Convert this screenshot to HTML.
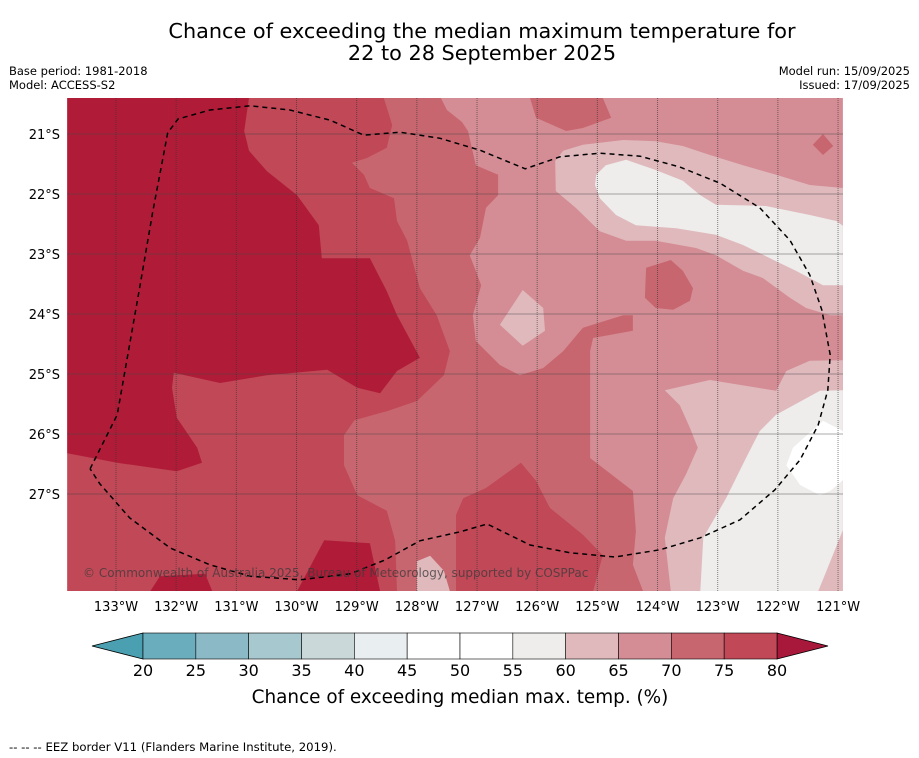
<!DOCTYPE html>
<html><head><meta charset="utf-8"><style>
body{margin:0;background:#fff;width:919px;height:758px;overflow:hidden;font-family:"Liberation Sans","DejaVu Sans",sans-serif}
svg{position:absolute;left:0;top:0}
</style></head><body>
<svg id="chart" width="919" height="758" font-family="DejaVu Sans, Liberation Sans, sans-serif">
<text x="482" y="38" text-anchor="middle" font-size="20.8">Chance of exceeding the median maximum temperature for</text>
<text x="482" y="60" text-anchor="middle" font-size="20.8">22 to 28 September 2025</text>
<text x="9" y="75" font-size="11.5">Base period: 1981-2018</text>
<text x="9" y="89" font-size="11.5">Model: ACCESS-S2</text>
<text x="910" y="75" font-size="11.5" text-anchor="end">Model run: 15/09/2025</text>
<text x="910" y="89" font-size="11.5" text-anchor="end">Issued: 17/09/2025</text>
<defs><clipPath id="mapclip"><rect x="67" y="98" width="776" height="493"/></clipPath></defs>
<g id="map" clip-path="url(#mapclip)"></g>
<g id="grid"></g>
<g id="eez"></g>
<text x="83" y="577" font-size="12" fill="#3a3a3a" fill-opacity="0.75">© Commonwealth of Australia 2025, Bureau of Meteorology, supported by COSPPac</text>
<g id="axes"></g>
<g id="cbar"></g>
<text x="460" y="703" text-anchor="middle" font-size="18.4">Chance of exceeding median max. temp. (%)</text>
<text x="9" y="751" font-size="11.7">--  --  -- EEZ border V11 (Flanders Marine Institute, 2019).</text>
</svg>
<script>
// Data: contour regions as [lonW, latS] vertices
const lonTicks=[133,132,131,130,129,128,127,126,125,124,123,122,121];
const latTicks=[21,22,23,24,25,26,27];
const levels=[20,25,30,35,40,45,50,55,60,65,70,75,80];
const levelColors=["#6aadbd","#8bbac6","#a8c8cf","#cbd8da","#e9eef0","#ffffff","#ffffff","#eeedec","#e0b9bd","#d48d95","#c8666f","#c04857"];
const regionBase=[[133.81,20.4],[120.92,20.4],[120.92,28.62],[133.81,28.62]];
const region70=[[133.81,20.4],[127.6,20.4],[127.5,20.6],[127.25,20.8],[127.15,20.95],[127.02,21.52],[126.65,21.68],[126.65,22.02],[126.85,22.23],[126.95,22.73],[127.12,23.02],[126.93,23.52],[127.07,24.02],[127.02,24.45],[126.62,24.85],[126.29,25.02],[125.9,24.9],[125.57,24.62],[125.24,24.23],[124.57,24.02],[124.41,24.02],[124.41,24.28],[125.07,24.4],[125.12,24.62],[125.12,26.4],[124.41,26.95],[124.36,27.62],[124.41,28.18],[124.24,28.62],[133.81,28.62]];
const region70a=[[126.12,20.4],[126.02,20.73],[125.52,20.95],[125.24,20.9],[124.77,20.73],[124.91,20.4]];
const region70b=[[124.19,23.23],[123.78,23.1],[123.58,23.28],[123.41,23.57],[123.46,23.78],[123.74,23.93],[124.03,23.9],[124.21,23.73]];
const region70c=[[121.42,21.18],[121.25,21.0],[121.08,21.2],[121.25,21.35]];
const region75=[[133.81,20.4],[128.55,20.4],[128.41,20.85],[128.5,21.23],[128.83,21.4],[129.08,21.48],[128.88,21.68],[128.78,21.9],[128.38,22.07],[128.33,22.45],[128.16,22.78],[127.95,23.57],[127.67,24.02],[127.45,24.62],[127.55,25.02],[128.0,25.45],[128.5,25.62],[129.04,25.77],[129.21,26.02],[129.21,26.52],[128.99,27.02],[128.5,27.28],[128.36,27.78],[128.33,28.62],[133.81,28.62]];
const region75a=[[127.35,27.35],[127.23,27.07],[126.85,26.9],[126.27,26.48],[126.02,26.78],[125.79,27.23],[125.24,27.68],[124.91,28.02],[125.07,28.62],[127.35,28.62]];
const region80=[[130.79,20.4],[130.87,20.95],[130.79,21.28],[130.49,21.62],[129.99,22.02],[129.63,22.52],[129.58,23.07],[128.78,23.07],[128.5,23.62],[128.33,24.02],[127.95,24.73],[128.33,24.95],[128.61,25.32],[128.99,25.23],[129.49,24.93],[130.49,25.02],[131.27,25.15],[132.04,24.98],[132.07,25.23],[131.99,25.73],[131.65,26.23],[131.57,26.48],[131.99,26.62],[132.98,26.48],[133.81,26.32],[133.81,20.4]];
const region80a=[[129.99,28.62],[129.54,27.77],[128.78,27.82],[128.61,28.62]];
const region80b=[[132.43,28.62],[132.27,28.37],[131.52,28.33],[131.4,28.62]];
const region60a=[[125.7,21.45],[125.69,21.95],[125.36,22.23],[124.96,22.62],[124.52,22.78],[124.03,22.78],[123.36,22.9],[123.03,23.02],[122.58,23.28],[122.25,23.4],[121.8,23.73],[121.53,23.9],[121.13,24.02],[120.92,24.02],[120.92,21.9],[121.47,21.85],[122.03,21.68],[122.58,21.52],[123.13,21.35],[123.58,21.2],[124.03,21.12],[124.57,21.1],[125.24,21.18],[125.57,21.28]];
const region60b=[[126.62,24.18],[126.24,23.6],[125.9,23.9],[125.87,24.28],[126.24,24.53]];
const region60c=[[123.88,25.27],[123.13,25.1],[122.03,25.28],[121.86,24.95],[121.47,24.78],[120.92,24.77],[120.92,28.62],[123.78,28.62],[123.88,27.73],[123.74,27.07],[123.53,26.68],[123.33,26.23],[123.46,25.9],[123.63,25.52]];
const region60d=[[128.0,28.12],[127.78,28.03],[127.55,28.28],[127.45,28.62],[128.0,28.62]];
const region55a=[[125.02,21.68],[124.86,21.52],[124.52,21.43],[124.03,21.6],[123.58,21.78],[123.29,22.02],[123.03,22.18],[122.2,22.2],[121.47,22.35],[121.03,22.45],[120.92,22.53],[120.92,23.52],[121.25,23.52],[121.7,23.28],[122.03,23.12],[122.58,22.85],[123.03,22.68],[123.69,22.57],[124.36,22.52],[124.69,22.35],[124.96,22.07],[125.04,21.85]];
const region55b=[[123.29,28.62],[123.24,27.73],[122.86,27.07],[122.53,26.4],[122.3,25.95],[122.03,25.68],[121.3,25.28],[120.92,25.27],[120.92,28.62]];
const region60e=[[120.92,27.6],[121.22,28.35],[121.33,28.62],[120.92,28.62]];
const region50=[[121.86,26.52],[121.75,26.23],[121.25,25.78],[120.92,25.95],[120.92,26.77],[121.13,26.95],[121.3,27.02],[121.63,26.85]];
const eezBorder=[[133.43,26.58],[132.98,25.68],[132.6,23.52],[132.39,22.3],[132.14,20.98],[131.97,20.75],[131.44,20.6],[130.77,20.53],[130.11,20.6],[129.44,20.77],[128.88,21.02],[128.28,20.97],[127.62,21.07],[126.95,21.27],[126.2,21.58],[125.62,21.38],[124.96,21.32],[124.29,21.37],[123.63,21.55],[122.96,21.82],[122.3,22.23],[121.8,22.77],[121.47,23.35],[121.27,23.93],[121.13,24.68],[121.17,25.27],[121.33,25.85],[121.63,26.43],[122.05,26.93],[122.63,27.43],[123.29,27.73],[123.96,27.93],[124.71,28.05],[125.45,27.98],[126.12,27.85],[126.83,27.5],[127.28,27.63],[127.95,27.78],[128.53,28.1],[129.11,28.33],[129.94,28.43],[130.77,28.37],[131.44,28.18],[132.1,27.9],[132.77,27.4],[133.27,26.83],[133.43,26.58]];

const NS="http://www.w3.org/2000/svg";
function X(w){return 116+(133-w)*60.17;}
function Y(s){return 134+(s-21)*60;}
function mk(tag,attrs,parent){const e=document.createElementNS(NS,tag);for(const k in attrs)e.setAttribute(k,attrs[k]);parent.appendChild(e);return e;}
function pts(a){return a.map(p=>X(p[0]).toFixed(1)+","+Y(p[1]).toFixed(1)).join(" ");}
const map=document.getElementById('map');
const layers=[[regionBase,"#d48d95","band-65-70"],[region70,"#c8666f","band-70-75"],[region70a,"#c8666f","band-70-75-patch"],[region70b,"#c8666f","band-70-75-patch"],[region70c,"#c8666f","band-70-75-patch"],[region75,"#c04857","band-75-80"],[region75a,"#c04857","band-75-80-patch"],[region80,"#b01c38","band-above-80"],[region80a,"#b01c38","band-above-80-patch"],[region80b,"#b01c38","band-above-80-patch"],[region60a,"#e0b9bd","band-60-65"],[region60b,"#e0b9bd","band-60-65-patch"],[region60c,"#e0b9bd","band-60-65-south"],[region60d,"#e0b9bd","band-60-65-patch"],[region55a,"#eeedec","band-55-60"],[region55b,"#eeedec","band-55-60-south"],[region60e,"#e0b9bd","band-60-65-patch"],[region50,"#ffffff","band-50-55"]];
layers.forEach(l=>{const p=mk('polygon',{points:pts(l[0]),fill:l[1]},map);

});
const grid=document.getElementById('grid');
latTicks.forEach(s=>{const ln=mk('line',{x1:67,x2:843,y1:Y(s),y2:Y(s),stroke:"#444","stroke-opacity":0.45,"stroke-width":1},grid);

});
lonTicks.forEach(w=>{const ln=mk('line',{x1:X(w),x2:X(w),y1:98,y2:591,stroke:"#333","stroke-opacity":0.6,"stroke-width":1,"stroke-dasharray":"1,1"},grid);

});
const eez=document.getElementById('eez');
const pl=mk('polyline',{points:pts(eezBorder),fill:"none",stroke:"#000","stroke-width":1.5,"stroke-dasharray":"5,4"},eez);


const axes=document.getElementById('axes');
lonTicks.forEach(w=>{const t=mk('text',{x:X(w),y:611,"text-anchor":"middle","font-size":13},axes);t.textContent=w+"°W";

});
latTicks.forEach(s=>{const t=mk('text',{x:60,y:Y(s)+5,"text-anchor":"end","font-size":13},axes);t.textContent=s+"°S";

});
// colorbar
const cb=document.getElementById('cbar');
const cx0=143,cx1=777,cy0=633,cy1=659;
function CX(v){return cx0+(v-levels[0])/(levels[levels.length-1]-levels[0])*(cx1-cx0);}
const lt=mk('polygon',{points:`${cx0},${cy0} ${cx0},${cy1} 92,${(cy0+cy1)/2}`,fill:"#4a9fb0",stroke:"#000","stroke-width":0.8},cb);


const rt=mk('polygon',{points:`${cx1},${cy0} ${cx1},${cy1} 828,${(cy0+cy1)/2}`,fill:"#a8183a",stroke:"#000","stroke-width":0.8},cb);


levelColors.forEach((c,i)=>{const r=mk('rect',{x:CX(levels[i]),y:cy0,width:CX(levels[i+1])-CX(levels[i]),height:cy1-cy0,fill:c,stroke:"#000","stroke-width":0.6},cb);

});
levels.forEach(v=>{const t=mk('text',{x:CX(v),y:676,"text-anchor":"middle","font-size":16},cb);t.textContent=v;

});
</script>
</body></html>
